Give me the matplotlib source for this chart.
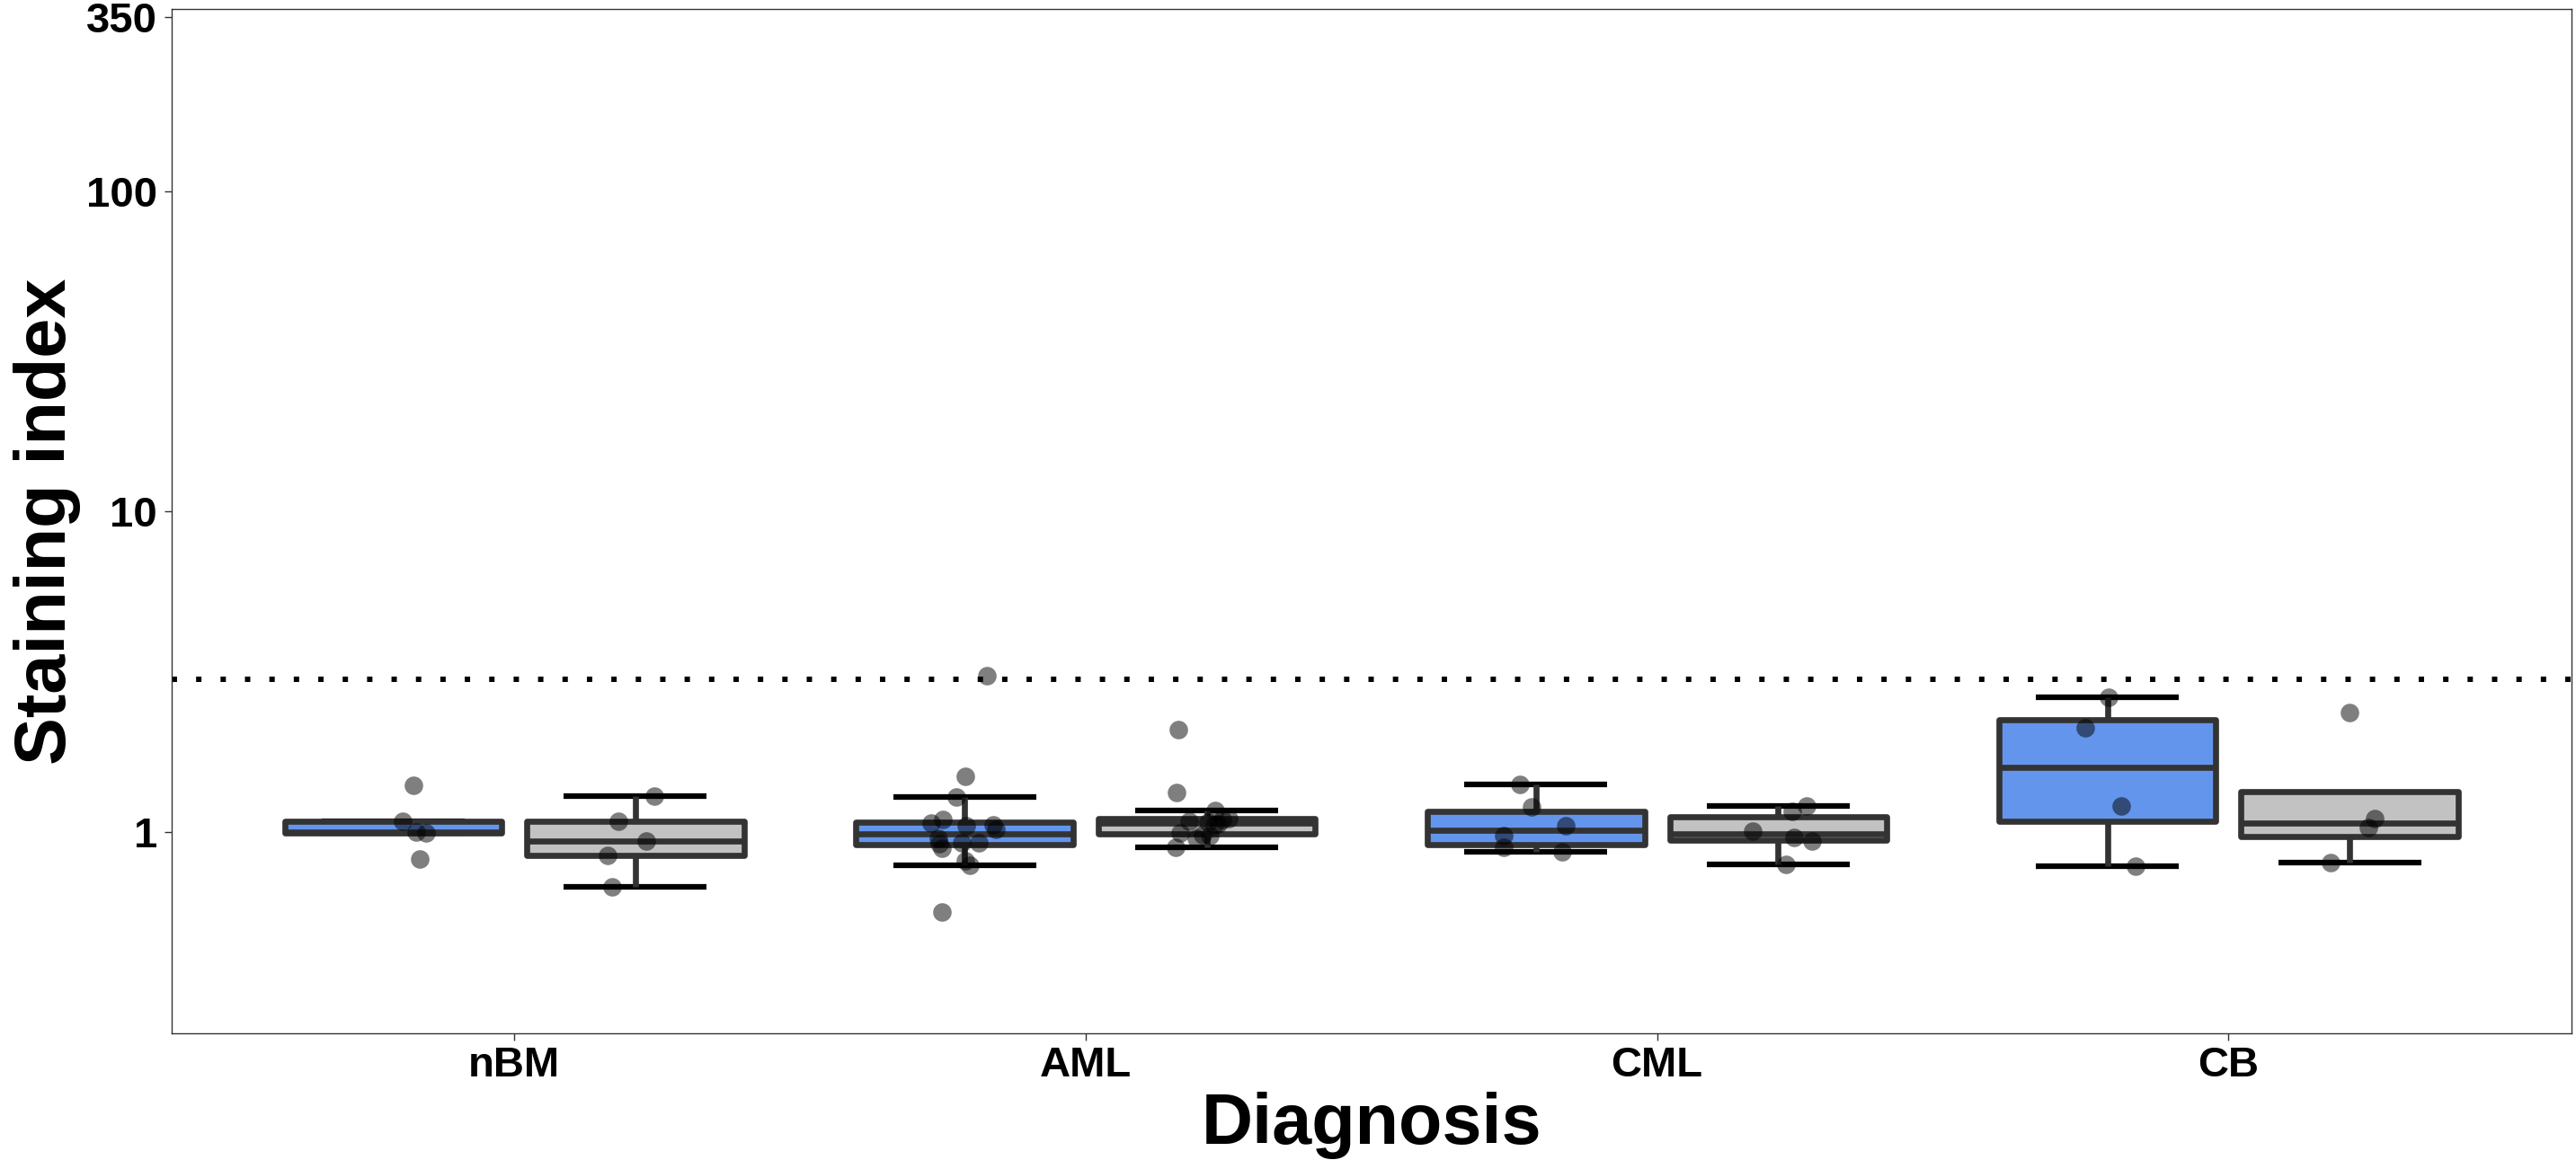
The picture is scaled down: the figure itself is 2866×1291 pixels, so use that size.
import numpy as np
import matplotlib
matplotlib.use("Agg")
import matplotlib.pyplot as plt
from matplotlib.ticker import NullLocator

# ---------------- data ----------------
categories = ["nBM", "AML", "CML", "CB"]
fill_colors = ["#6495ED", "#C2C2C2"]

nbm_blue = [1.394, 1.079, 1.00, 0.994, 0.822]
nbm_grey = [1.295, 1.076, 0.936, 0.845, 0.674]
aml_blue = [3.07, 1.493, 1.284, 1.095, 1.065, 1.042, 1.053, 1.016, 0.956,
            0.916, 0.925, 0.925, 0.89, 0.810, 0.784, 0.561]
aml_grey = [2.08, 1.33, 1.165, 1.10, 1.09, 1.08, 1.07, 1.06, 1.05,
            0.994, 0.98, 0.97, 0.956, 0.893]
cml_blue = [1.409, 1.194, 1.044, 0.973, 0.893, 0.864]
cml_grey = [1.201, 1.156, 1.005, 0.962, 0.936, 0.792]
cb_blue = [2.632, 2.113, 1.201, 0.781]
cb_grey = [2.353, 1.102, 1.033, 0.801]

threshold = 3
y_ticks = [1, 10, 100, 350]
y_tick_labels = ["1", "10", "100", "350"]

# horizontal jitter of the points (data units)
nbm_blue_jit = [0.035, 0.017, 0.041, 0.057, 0.047]
nbm_grey_jit = [0.033, -0.030, 0.019, -0.049, -0.041]
aml_blue_jit = [0.039, 0.002, -0.014, -0.038, -0.058, 0.003, 0.050, 0.055, -0.046,
                -0.044, -0.005, 0.025, -0.039, 0.002, 0.009, -0.039]
aml_grey_jit = [-0.049, -0.053, 0.014, 0.039, 0.028, -0.031, 0.002, 0.019, 0.013,
                -0.047, -0.008, 0.005, -0.019, -0.055]
cml_blue_jit = [-0.028, -0.008, 0.053, -0.057, -0.057, 0.046]
cml_grey_jit = [0.050, 0.024, -0.044, 0.028, 0.060, 0.013]
cb_blue_jit = [0.002, -0.039, 0.024, 0.049]
cb_grey_jit = [0.0, 0.044, 0.033, -0.033]

blue_series = [nbm_blue, aml_blue, cml_blue, cb_blue]
grey_series = [nbm_grey, aml_grey, cml_grey, cb_grey]
blue_jit = [nbm_blue_jit, aml_blue_jit, cml_blue_jit, cb_blue_jit]
grey_jit = [nbm_grey_jit, aml_grey_jit, cml_grey_jit, cb_grey_jit]

# ---------------- helpers ----------------
def log_stats(vals):
    lv = np.log10(np.asarray(vals, dtype=float))
    q1, med, q3 = np.percentile(lv, [25, 50, 75])
    iqr = q3 - q1
    lo = lv[lv >= q1 - 1.5 * iqr].min()
    hi = lv[lv <= q3 + 1.5 * iqr].max()
    return dict(med=10 ** med, q1=10 ** q1, q3=10 ** q3,
                whislo=10 ** lo, whishi=10 ** hi, fliers=[])

# ---------------- figure ----------------
W, H = 2866, 1291
fig = plt.figure(figsize=(W / 100, H / 100), dpi=100)
ax_l, ax_r, ax_t, ax_b = 190.7, 2860.7, 10.0, 1150.0
ax = fig.add_axes([ax_l / W, 1 - ax_b / H, (ax_r - ax_l) / W, (ax_b - ax_t) / H])

FONT = "Liberation Sans"
DARK = "#333333"
dodge = 0.212
box_w = 0.38
cap_w = 0.25
lw_box = 4.8

ax.axhline(threshold, color="black", lw=4.3, linestyle=(0, (1, 3.55)),
           dash_capstyle="butt", zorder=1.5)

for series, jits, off, col in [(blue_series, blue_jit, -dodge, fill_colors[0]),
                               (grey_series, grey_jit, dodge, fill_colors[1])]:
    positions = [i + 1 + off for i in range(len(categories))]
    stats = [log_stats(v) for v in series]
    ax.bxp(stats, positions=positions, widths=box_w, capwidths=cap_w,
           patch_artist=True, showfliers=False, manage_ticks=False,
           boxprops=dict(facecolor=col, edgecolor=DARK, linewidth=lw_box,
                         joinstyle="round", zorder=3),
           whiskerprops=dict(color=DARK, linewidth=lw_box, solid_capstyle="butt",
                             zorder=2.5),
           capprops=dict(color="black", linewidth=4.5, solid_capstyle="butt",
                         zorder=2),
           medianprops=dict(color=DARK, linewidth=lw_box, solid_capstyle="butt",
                            zorder=3.5))
    for p, vals, jit in zip(positions, series, jits):
        ax.scatter(np.array(jit) + p, vals, s=220, color="black", alpha=0.5,
                   linewidths=0, zorder=4)

ax.set_yscale("log")
ax.set_ylim(0.2346, 372)
ax.set_xlim(0.4, 4.6)
ax.set_yticks(y_ticks)
ax.set_yticklabels(y_tick_labels)
ax.yaxis.set_minor_locator(NullLocator())
ax.set_xticks(range(1, len(categories) + 1))
ax.set_xticklabels(categories)

for lab in ax.get_xticklabels() + ax.get_yticklabels():
    lab.set_fontfamily(FONT)
    lab.set_fontweight("bold")
    lab.set_fontsize(34)
    lab.set_color("black")

ax.tick_params(axis="both", length=5.8, width=1.0, color=DARK)
ax.tick_params(axis="x", pad=4)
ax.tick_params(axis="y", pad=5.5)
for s in ax.spines.values():
    s.set_color(DARK)
    s.set_linewidth(1.0)

fig.text(1525.7 / W, 1 - 1273 / H, "Diagnosis", fontfamily=FONT,
         fontweight="bold", fontsize=57, ha="center", va="baseline")
fig.text(73 / W, 1 - 580.5 / H, "Staining index", fontfamily=FONT,
         fontweight="bold", fontsize=57, ha="center", va="baseline",
         rotation=90, rotation_mode="anchor")

fig.savefig("out.png", dpi=100)
